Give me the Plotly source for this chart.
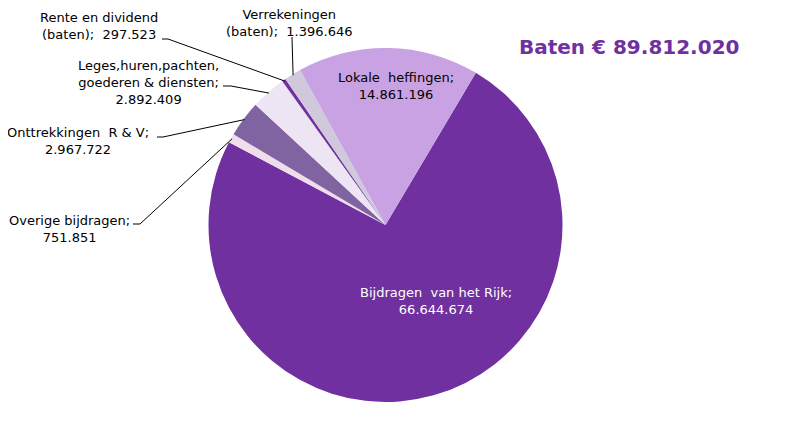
import math
import plotly.graph_objects as go

# ---- data ----
categories = ["Bijdragen  van het Rijk", "Overige bijdragen", "Onttrekkingen  R & V",
              "Leges,huren,pachten,<br>goederen & diensten", "Rente en dividend<br>(baten)",
              "Verrekeningen<br>(baten)", "Lokale  heffingen"]
values = [66644674, 751851, 2967722, 2892409, 297523, 1396646, 14861196]
colors = ["#7030A0", "#EEDDEB", "#8064A2", "#EDE4F4", "#7030A0", "#D0C9DC", "#C8A2E2"]
title_text = "Baten € 89.812.020"

W, H = 787, 437
OFF = 8  # page body margin
CX, CY, R = 385.5 - OFF, 225 - OFF, 177
ROT = 30.7  # start angle (deg, clockwise from 12 o'clock)

def fmt(v):
    return f"{v:,}".replace(",", ".")

fig = go.Figure()
fig.add_trace(go.Pie(
    labels=categories, values=values, sort=False, direction="clockwise",
    rotation=ROT, marker=dict(colors=colors, line=dict(width=0)),
    textinfo="none", hoverinfo="label+value", showlegend=False,
    domain=dict(x=[(CX - R) / W, (CX + R) / W], y=[1 - (CY + R) / H, 1 - (CY - R) / H]),
))

def px(x):
    return (x - OFF) / W

def py(y):
    return 1 - (y - OFF) / H

total = sum(values)
mid_angle = []
acc = 0
for v in values:
    mid_angle.append(ROT + (acc + v / 2) / total * 360)
    acc += v

def edge(i, rr=R):
    # returns reference-page pixel coords
    a = math.radians(mid_angle[i])
    return CX + OFF + rr * math.sin(a), CY + OFF - rr * math.cos(a)

FONT = "DejaVu Sans, Verdana, sans-serif"
annotations = []
shapes = []

def label(text, x, y, color="#000000"):
    annotations.append(dict(text=text, x=px(x), y=py(y), xref="paper", yref="paper",
                            showarrow=False, xanchor="center", yanchor="middle",
                            align="center", font=dict(family=FONT, size=13, color=color)))

# inside labels
label(f"Lokale  heffingen;<br>{fmt(values[6])}", 396, 86)
label(f"Bijdragen  van het Rijk;<br>{fmt(values[0])}", 436, 301, "#FFFFFF")

# outside labels with leader lines: (index, label centre, leader start points)
outside = [
    (4, (99, 26), [(162, 39), (168, 39)]),
    (5, (289, 23), [(292, 37)]),
    (3, (148, 82), [(223, 86), (231, 86)]),
    (2, (78, 141), [(157, 137), (163, 137)]),
    (1, (69, 229), [(133, 224), (140, 224)]),
]
for i, (lx, ly), pts in outside:
    name = categories[i]
    label(f"{name};  {fmt(values[i])}" if i in (4, 5) else f"{name};<br>{fmt(values[i])}", lx, ly)
    ex, ey = edge(i, R - 1)
    allpts = pts + [(ex, ey)]
    path = "M " + " L ".join(f"{px(x)},{py(y)}" for x, y in allpts)
    shapes.append(dict(type="path", path=path, xref="paper", yref="paper",
                       line=dict(color="#000000", width=1)))

annotations.append(dict(text=f"<b>{title_text}</b>", x=px(629), y=py(47), xref="paper", yref="paper",
                        showarrow=False, xanchor="center", yanchor="middle",
                        font=dict(family=FONT, size=20, color="#7030A0")))

fig.update_layout(width=W, height=H, margin=dict(l=0, r=0, t=0, b=0),
                  paper_bgcolor="#FFFFFF", plot_bgcolor="#FFFFFF",
                  annotations=annotations, shapes=shapes)
fig.write_html("out.html")
